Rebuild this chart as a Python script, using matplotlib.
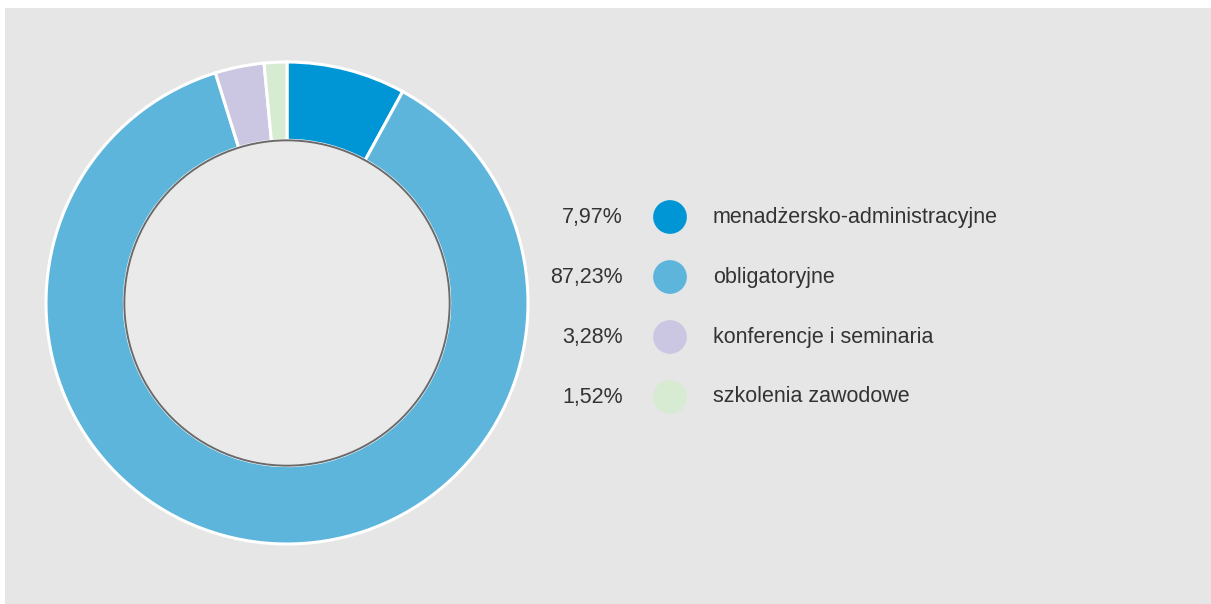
#!/usr/bin/env python3
import matplotlib.pyplot as plt
from matplotlib.patches import Rectangle, Circle

# Data
labels = ["menadżersko-administracyjne", "obligatoryjne",
          "konferencje i seminaria", "szkolenia zawodowe"]
shares = [7.97, 87.23, 3.28, 1.52]
colors = ["#0096d6", "#5db5db", "#cbc7e2", "#d6ebd2"]

W, H = 1211, 604


def plot_chart():
    plt.rcParams["font.family"] = ["Liberation Sans", "DejaVu Sans"]
    fig = plt.figure(figsize=(W / 100, H / 100), dpi=100)
    fig.patch.set_facecolor("white")

    # grey panel
    fig.patches.append(Rectangle((5 / W, 0), 1 - 5 / W, 1 - 8 / H,
                                 transform=fig.transFigure,
                                 facecolor="#e6e6e7", edgecolor="none",
                                 linewidth=0, zorder=-10))

    # donut
    cx, cy, r = 287, 303, 241
    half = 250
    ax = fig.add_axes([(cx - half) / W, (H - cy - half) / H,
                       2 * half / W, 2 * half / H])
    ax.pie(shares, colors=colors, startangle=90, counterclock=False,
           radius=1.0,
           wedgeprops=dict(width=0.325, edgecolor="white", linewidth=2.2))
    ax.add_patch(Circle((0, 0), 0.675, facecolor="#eaeaea",
                        edgecolor="#6a6a6a", linewidth=1.4, zorder=5))
    ax.set_xlim(-half / r, half / r)
    ax.set_ylim(-half / r, half / r)
    ax.set_aspect("equal")
    ax.axis("off")

    # legend drawn in pixel coordinates
    lg = fig.add_axes([0, 0, 1, 1])
    lg.set_xlim(0, W)
    lg.set_ylim(H, 0)
    lg.axis("off")
    y0, dy = 217, 60
    for i, (lab, val, col) in enumerate(zip(labels, shares, colors)):
        y = y0 + i * dy
        lg.scatter([670], [y], s=590, color=col, edgecolors="none")
        pct = f"{val:.2f}".replace(".", ",") + "%"
        lg.text(623, y, pct, ha="right", va="center",
                fontsize=15.5, color="#333333")
        lg.text(713, y, lab, ha="left", va="center",
                fontsize=15.5, color="#333333")

    plt.savefig("out.png", dpi=100)


if __name__ == "__main__":
    plot_chart()
